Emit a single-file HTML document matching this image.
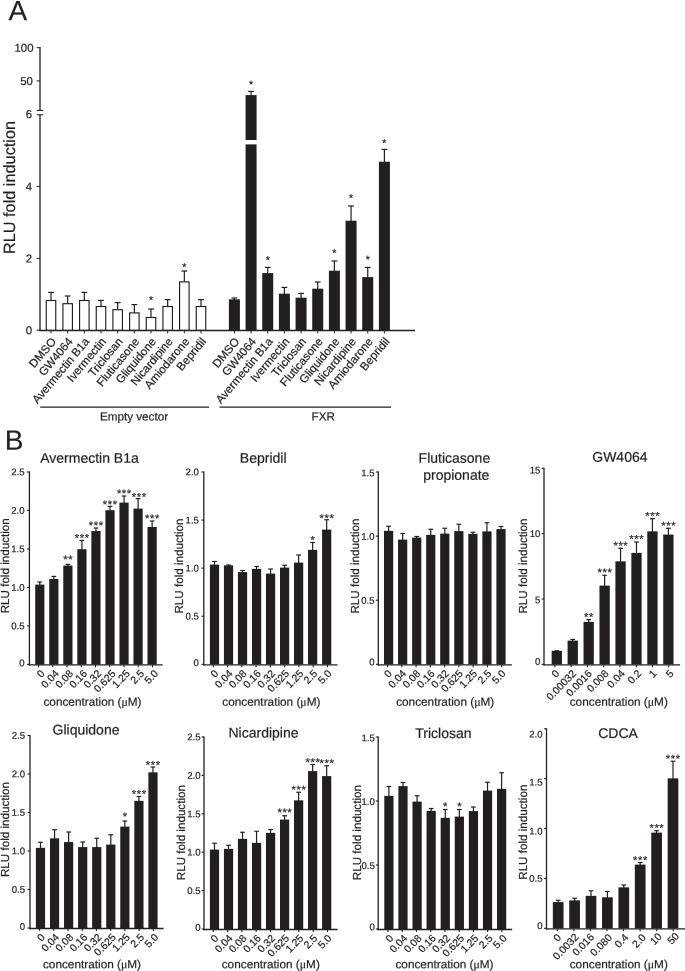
<!DOCTYPE html>
<html lang="en">
<head>
<meta charset="utf-8">
<title>Figure</title>
<style>
html,body{margin:0;padding:0;background:#fff;}
body{width:685px;height:971px;overflow:hidden;}
svg{display:block;}
svg text{font-family:"Liberation Sans",Arial,Helvetica,sans-serif;fill:#231f20;stroke:#231f20;stroke-width:0.2px;text-rendering:geometricPrecision;}
</style>
</head>
<body>
<svg width="685" height="971" viewBox="0 0 685 971">
<rect x="0" y="0" width="685" height="971" fill="#ffffff"/>
<text x="8.50" y="20.20" font-size="28" text-anchor="start" transform="rotate(0.05 8.50 20.20)">A</text>
<line x1="40.00" y1="114.80" x2="40.00" y2="330.80" stroke="#231f20" stroke-width="1.3"/>
<line x1="40.00" y1="47.10" x2="40.00" y2="110.40" stroke="#231f20" stroke-width="1.3"/>
<line x1="36.80" y1="110.40" x2="43.20" y2="110.40" stroke="#231f20" stroke-width="1.1"/>
<line x1="36.80" y1="114.80" x2="43.20" y2="114.80" stroke="#231f20" stroke-width="1.1"/>
<line x1="36.60" y1="47.70" x2="40.00" y2="47.70" stroke="#231f20" stroke-width="1.0"/>
<text x="33.50" y="51.70" font-size="11.4" text-anchor="end" transform="rotate(0.05 33.50 51.70)">100</text>
<line x1="36.60" y1="80.90" x2="40.00" y2="80.90" stroke="#231f20" stroke-width="1.0"/>
<text x="32.80" y="84.90" font-size="11.4" text-anchor="end" transform="rotate(0.05 32.80 84.90)">50</text>
<line x1="36.60" y1="186.40" x2="40.00" y2="186.40" stroke="#231f20" stroke-width="1.0"/>
<text x="32.20" y="190.40" font-size="11.4" text-anchor="end" transform="rotate(0.05 32.20 190.40)">4</text>
<line x1="36.60" y1="258.40" x2="40.00" y2="258.40" stroke="#231f20" stroke-width="1.0"/>
<text x="32.20" y="262.40" font-size="11.4" text-anchor="end" transform="rotate(0.05 32.20 262.40)">2</text>
<line x1="36.60" y1="330.20" x2="40.00" y2="330.20" stroke="#231f20" stroke-width="1.0"/>
<text x="32.20" y="334.20" font-size="11.4" text-anchor="end" transform="rotate(0.05 32.20 334.20)">0</text>
<text x="32.20" y="118.10" font-size="11.4" text-anchor="end" transform="rotate(0.05 32.20 118.10)">6</text>
<line x1="39.40" y1="330.50" x2="415.00" y2="330.50" stroke="#231f20" stroke-width="1.3"/>
<text x="15.00" y="187.50" font-size="16.3" text-anchor="middle" transform="rotate(-90 15.00 187.50)">RLU fold induction</text>
<line x1="51.00" y1="292.40" x2="51.00" y2="300.50" stroke="#231f20" stroke-width="1.2"/>
<line x1="48.10" y1="292.40" x2="53.90" y2="292.40" stroke="#231f20" stroke-width="1.2"/>
<rect x="46.25" y="300.50" width="9.50" height="29.70" fill="#fff" stroke="#231f20" stroke-width="1.15"/>
<line x1="51.00" y1="330.20" x2="51.00" y2="333.40" stroke="#231f20" stroke-width="1.0"/>
<text x="56.70" y="341.80" font-size="11.6" text-anchor="end" transform="rotate(-50 56.70 341.80)">DMSO</text>
<line x1="67.67" y1="296.00" x2="67.67" y2="303.70" stroke="#231f20" stroke-width="1.2"/>
<line x1="64.77" y1="296.00" x2="70.57" y2="296.00" stroke="#231f20" stroke-width="1.2"/>
<rect x="62.92" y="303.70" width="9.50" height="26.50" fill="#fff" stroke="#231f20" stroke-width="1.15"/>
<line x1="67.67" y1="330.20" x2="67.67" y2="333.40" stroke="#231f20" stroke-width="1.0"/>
<text x="73.37" y="341.80" font-size="11.6" text-anchor="end" transform="rotate(-50 73.37 341.80)">GW4064</text>
<line x1="84.33" y1="292.40" x2="84.33" y2="300.50" stroke="#231f20" stroke-width="1.2"/>
<line x1="81.43" y1="292.40" x2="87.23" y2="292.40" stroke="#231f20" stroke-width="1.2"/>
<rect x="79.58" y="300.50" width="9.50" height="29.70" fill="#fff" stroke="#231f20" stroke-width="1.15"/>
<line x1="84.33" y1="330.20" x2="84.33" y2="333.40" stroke="#231f20" stroke-width="1.0"/>
<text x="90.03" y="341.80" font-size="11.6" text-anchor="end" transform="rotate(-50 90.03 341.80)">Avermectin B1a</text>
<line x1="101.00" y1="300.40" x2="101.00" y2="306.50" stroke="#231f20" stroke-width="1.2"/>
<line x1="98.10" y1="300.40" x2="103.90" y2="300.40" stroke="#231f20" stroke-width="1.2"/>
<rect x="96.25" y="306.50" width="9.50" height="23.70" fill="#fff" stroke="#231f20" stroke-width="1.15"/>
<line x1="101.00" y1="330.20" x2="101.00" y2="333.40" stroke="#231f20" stroke-width="1.0"/>
<text x="106.70" y="341.80" font-size="11.6" text-anchor="end" transform="rotate(-50 106.70 341.80)">Ivermectin</text>
<line x1="117.67" y1="302.60" x2="117.67" y2="309.70" stroke="#231f20" stroke-width="1.2"/>
<line x1="114.77" y1="302.60" x2="120.57" y2="302.60" stroke="#231f20" stroke-width="1.2"/>
<rect x="112.92" y="309.70" width="9.50" height="20.50" fill="#fff" stroke="#231f20" stroke-width="1.15"/>
<line x1="117.67" y1="330.20" x2="117.67" y2="333.40" stroke="#231f20" stroke-width="1.0"/>
<text x="123.37" y="341.80" font-size="11.6" text-anchor="end" transform="rotate(-50 123.37 341.80)">Triclosan</text>
<line x1="134.34" y1="304.60" x2="134.34" y2="312.90" stroke="#231f20" stroke-width="1.2"/>
<line x1="131.44" y1="304.60" x2="137.24" y2="304.60" stroke="#231f20" stroke-width="1.2"/>
<rect x="129.59" y="312.90" width="9.50" height="17.30" fill="#fff" stroke="#231f20" stroke-width="1.15"/>
<line x1="134.34" y1="330.20" x2="134.34" y2="333.40" stroke="#231f20" stroke-width="1.0"/>
<text x="140.03" y="341.80" font-size="11.6" text-anchor="end" transform="rotate(-50 140.03 341.80)">Fluticasone</text>
<line x1="151.00" y1="309.00" x2="151.00" y2="317.50" stroke="#231f20" stroke-width="1.2"/>
<line x1="148.10" y1="309.00" x2="153.90" y2="309.00" stroke="#231f20" stroke-width="1.2"/>
<rect x="146.25" y="317.50" width="9.50" height="12.70" fill="#fff" stroke="#231f20" stroke-width="1.15"/>
<line x1="151.00" y1="330.20" x2="151.00" y2="333.40" stroke="#231f20" stroke-width="1.0"/>
<text x="151.00" y="303.41" font-size="10.5" text-anchor="middle" transform="rotate(0.05 151.00 303.41)" stroke-width="0.5" letter-spacing="0.0">*</text>
<text x="156.70" y="341.80" font-size="11.6" text-anchor="end" transform="rotate(-50 156.70 341.80)">Gliquidone</text>
<line x1="167.67" y1="299.60" x2="167.67" y2="306.50" stroke="#231f20" stroke-width="1.2"/>
<line x1="164.77" y1="299.60" x2="170.57" y2="299.60" stroke="#231f20" stroke-width="1.2"/>
<rect x="162.92" y="306.50" width="9.50" height="23.70" fill="#fff" stroke="#231f20" stroke-width="1.15"/>
<line x1="167.67" y1="330.20" x2="167.67" y2="333.40" stroke="#231f20" stroke-width="1.0"/>
<text x="173.37" y="341.80" font-size="11.6" text-anchor="end" transform="rotate(-50 173.37 341.80)">Nicardipine</text>
<line x1="184.34" y1="271.00" x2="184.34" y2="281.90" stroke="#231f20" stroke-width="1.2"/>
<line x1="181.44" y1="271.00" x2="187.24" y2="271.00" stroke="#231f20" stroke-width="1.2"/>
<rect x="179.59" y="281.90" width="9.50" height="48.30" fill="#fff" stroke="#231f20" stroke-width="1.15"/>
<line x1="184.34" y1="330.20" x2="184.34" y2="333.40" stroke="#231f20" stroke-width="1.0"/>
<text x="184.34" y="270.41" font-size="10.5" text-anchor="middle" transform="rotate(0.05 184.34 270.41)" stroke-width="0.5" letter-spacing="0.0">*</text>
<text x="190.04" y="341.80" font-size="11.6" text-anchor="end" transform="rotate(-50 190.04 341.80)">Amiodarone</text>
<line x1="201.00" y1="299.60" x2="201.00" y2="306.50" stroke="#231f20" stroke-width="1.2"/>
<line x1="198.10" y1="299.60" x2="203.90" y2="299.60" stroke="#231f20" stroke-width="1.2"/>
<rect x="196.25" y="306.50" width="9.50" height="23.70" fill="#fff" stroke="#231f20" stroke-width="1.15"/>
<line x1="201.00" y1="330.20" x2="201.00" y2="333.40" stroke="#231f20" stroke-width="1.0"/>
<text x="206.70" y="341.80" font-size="11.6" text-anchor="end" transform="rotate(-50 206.70 341.80)">Bepridil</text>
<line x1="234.40" y1="298.00" x2="234.40" y2="300.10" stroke="#231f20" stroke-width="1.2"/>
<line x1="231.50" y1="298.00" x2="237.30" y2="298.00" stroke="#231f20" stroke-width="1.2"/>
<rect x="228.90" y="299.30" width="11.00" height="30.90" fill="#231f20"/>
<line x1="234.40" y1="330.20" x2="234.40" y2="333.40" stroke="#231f20" stroke-width="1.0"/>
<text x="240.10" y="341.80" font-size="11.6" text-anchor="end" transform="rotate(-50 240.10 341.80)">DMSO</text>
<line x1="251.07" y1="91.40" x2="251.07" y2="95.90" stroke="#231f20" stroke-width="1.2"/>
<line x1="248.17" y1="91.40" x2="253.97" y2="91.40" stroke="#231f20" stroke-width="1.2"/>
<rect x="245.57" y="95.10" width="11.00" height="235.10" fill="#231f20"/>
<line x1="251.07" y1="330.20" x2="251.07" y2="333.40" stroke="#231f20" stroke-width="1.0"/>
<text x="251.07" y="88.01" font-size="10.5" text-anchor="middle" transform="rotate(0.05 251.07 88.01)" stroke-width="0.5" letter-spacing="0.0">*</text>
<text x="256.77" y="341.80" font-size="11.6" text-anchor="end" transform="rotate(-50 256.77 341.80)">GW4064</text>
<line x1="267.73" y1="267.40" x2="267.73" y2="273.90" stroke="#231f20" stroke-width="1.2"/>
<line x1="264.83" y1="267.40" x2="270.63" y2="267.40" stroke="#231f20" stroke-width="1.2"/>
<rect x="262.23" y="273.10" width="11.00" height="57.10" fill="#231f20"/>
<line x1="267.73" y1="330.20" x2="267.73" y2="333.40" stroke="#231f20" stroke-width="1.0"/>
<text x="267.73" y="263.41" font-size="10.5" text-anchor="middle" transform="rotate(0.05 267.73 263.41)" stroke-width="0.5" letter-spacing="0.0">*</text>
<text x="273.43" y="341.80" font-size="11.6" text-anchor="end" transform="rotate(-50 273.43 341.80)">Avermectin B1a</text>
<line x1="284.40" y1="287.40" x2="284.40" y2="294.50" stroke="#231f20" stroke-width="1.2"/>
<line x1="281.50" y1="287.40" x2="287.30" y2="287.40" stroke="#231f20" stroke-width="1.2"/>
<rect x="278.90" y="293.70" width="11.00" height="36.50" fill="#231f20"/>
<line x1="284.40" y1="330.20" x2="284.40" y2="333.40" stroke="#231f20" stroke-width="1.0"/>
<text x="290.10" y="341.80" font-size="11.6" text-anchor="end" transform="rotate(-50 290.10 341.80)">Ivermectin</text>
<line x1="301.07" y1="293.40" x2="301.07" y2="298.50" stroke="#231f20" stroke-width="1.2"/>
<line x1="298.17" y1="293.40" x2="303.97" y2="293.40" stroke="#231f20" stroke-width="1.2"/>
<rect x="295.57" y="297.70" width="11.00" height="32.50" fill="#231f20"/>
<line x1="301.07" y1="330.20" x2="301.07" y2="333.40" stroke="#231f20" stroke-width="1.0"/>
<text x="306.77" y="341.80" font-size="11.6" text-anchor="end" transform="rotate(-50 306.77 341.80)">Triclosan</text>
<line x1="317.74" y1="282.00" x2="317.74" y2="289.50" stroke="#231f20" stroke-width="1.2"/>
<line x1="314.84" y1="282.00" x2="320.63" y2="282.00" stroke="#231f20" stroke-width="1.2"/>
<rect x="312.24" y="288.70" width="11.00" height="41.50" fill="#231f20"/>
<line x1="317.74" y1="330.20" x2="317.74" y2="333.40" stroke="#231f20" stroke-width="1.0"/>
<text x="323.44" y="341.80" font-size="11.6" text-anchor="end" transform="rotate(-50 323.44 341.80)">Fluticasone</text>
<line x1="334.40" y1="261.00" x2="334.40" y2="271.50" stroke="#231f20" stroke-width="1.2"/>
<line x1="331.50" y1="261.00" x2="337.30" y2="261.00" stroke="#231f20" stroke-width="1.2"/>
<rect x="328.90" y="270.70" width="11.00" height="59.50" fill="#231f20"/>
<line x1="334.40" y1="330.20" x2="334.40" y2="333.40" stroke="#231f20" stroke-width="1.0"/>
<text x="334.40" y="256.41" font-size="10.5" text-anchor="middle" transform="rotate(0.05 334.40 256.41)" stroke-width="0.5" letter-spacing="0.0">*</text>
<text x="340.10" y="341.80" font-size="11.6" text-anchor="end" transform="rotate(-50 340.10 341.80)">Gliquidone</text>
<line x1="351.07" y1="206.00" x2="351.07" y2="221.50" stroke="#231f20" stroke-width="1.2"/>
<line x1="348.17" y1="206.00" x2="353.97" y2="206.00" stroke="#231f20" stroke-width="1.2"/>
<rect x="345.57" y="220.70" width="11.00" height="109.50" fill="#231f20"/>
<line x1="351.07" y1="330.20" x2="351.07" y2="333.40" stroke="#231f20" stroke-width="1.0"/>
<text x="351.07" y="201.41" font-size="10.5" text-anchor="middle" transform="rotate(0.05 351.07 201.41)" stroke-width="0.5" letter-spacing="0.0">*</text>
<text x="356.77" y="341.80" font-size="11.6" text-anchor="end" transform="rotate(-50 356.77 341.80)">Nicardipine</text>
<line x1="367.74" y1="267.40" x2="367.74" y2="277.90" stroke="#231f20" stroke-width="1.2"/>
<line x1="364.84" y1="267.40" x2="370.64" y2="267.40" stroke="#231f20" stroke-width="1.2"/>
<rect x="362.24" y="277.10" width="11.00" height="53.10" fill="#231f20"/>
<line x1="367.74" y1="330.20" x2="367.74" y2="333.40" stroke="#231f20" stroke-width="1.0"/>
<text x="367.74" y="263.01" font-size="10.5" text-anchor="middle" transform="rotate(0.05 367.74 263.01)" stroke-width="0.5" letter-spacing="0.0">*</text>
<text x="373.44" y="341.80" font-size="11.6" text-anchor="end" transform="rotate(-50 373.44 341.80)">Amiodarone</text>
<line x1="384.40" y1="149.40" x2="384.40" y2="162.50" stroke="#231f20" stroke-width="1.2"/>
<line x1="381.50" y1="149.40" x2="387.30" y2="149.40" stroke="#231f20" stroke-width="1.2"/>
<rect x="378.90" y="161.70" width="11.00" height="168.50" fill="#231f20"/>
<line x1="384.40" y1="330.20" x2="384.40" y2="333.40" stroke="#231f20" stroke-width="1.0"/>
<text x="384.40" y="146.41" font-size="10.5" text-anchor="middle" transform="rotate(0.05 384.40 146.41)" stroke-width="0.5" letter-spacing="0.0">*</text>
<text x="390.10" y="341.80" font-size="11.6" text-anchor="end" transform="rotate(-50 390.10 341.80)">Bepridil</text>
<rect x="244.07" y="140.00" width="14.00" height="4.40" fill="#fff"/>
<line x1="40.20" y1="407.10" x2="209.00" y2="407.10" stroke="#231f20" stroke-width="1.1"/>
<line x1="219.60" y1="407.10" x2="391.00" y2="407.10" stroke="#231f20" stroke-width="1.1"/>
<text x="134.00" y="420.60" font-size="11.7" text-anchor="middle" transform="rotate(0.05 134.00 420.60)">Empty vector</text>
<text x="323.20" y="420.40" font-size="11.7" text-anchor="middle" transform="rotate(0.05 323.20 420.40)">FXR</text>
<text x="4.80" y="449.80" font-size="28" text-anchor="start" transform="rotate(0.05 4.80 449.80)">B</text>
<text x="89.50" y="462.80" font-size="14" text-anchor="middle" transform="rotate(0.05 89.50 462.80)">Avermectin B1a</text>
<line x1="29.40" y1="471.40" x2="29.40" y2="665.65" stroke="#231f20" stroke-width="1.3"/>
<line x1="28.80" y1="664.90" x2="162.70" y2="664.90" stroke="#231f20" stroke-width="1.3"/>
<line x1="27.00" y1="664.40" x2="29.40" y2="664.40" stroke="#231f20" stroke-width="1.1"/>
<text x="24.50" y="666.15" font-size="9.6" text-anchor="end" transform="rotate(0.05 24.50 666.15)">0</text>
<line x1="27.00" y1="625.92" x2="29.40" y2="625.92" stroke="#231f20" stroke-width="1.1"/>
<text x="24.50" y="629.27" font-size="9.6" text-anchor="end" transform="rotate(0.05 24.50 629.27)">0.5</text>
<line x1="27.00" y1="587.44" x2="29.40" y2="587.44" stroke="#231f20" stroke-width="1.1"/>
<text x="24.50" y="590.79" font-size="9.6" text-anchor="end" transform="rotate(0.05 24.50 590.79)">1.0</text>
<line x1="27.00" y1="548.96" x2="29.40" y2="548.96" stroke="#231f20" stroke-width="1.1"/>
<text x="24.50" y="552.31" font-size="9.6" text-anchor="end" transform="rotate(0.05 24.50 552.31)">1.5</text>
<line x1="27.00" y1="510.48" x2="29.40" y2="510.48" stroke="#231f20" stroke-width="1.1"/>
<text x="24.50" y="513.83" font-size="9.6" text-anchor="end" transform="rotate(0.05 24.50 513.83)">2.0</text>
<line x1="27.00" y1="472.00" x2="29.40" y2="472.00" stroke="#231f20" stroke-width="1.1"/>
<text x="24.50" y="475.35" font-size="9.6" text-anchor="end" transform="rotate(0.05 24.50 475.35)">2.5</text>
<text x="9.00" y="565.80" font-size="11.65" text-anchor="middle" transform="rotate(-90 9.00 565.80)">RLU fold induction</text>
<line x1="39.80" y1="582.00" x2="39.80" y2="585.50" stroke="#231f20" stroke-width="1.2"/>
<line x1="37.45" y1="582.00" x2="42.15" y2="582.00" stroke="#231f20" stroke-width="1.2"/>
<rect x="35.20" y="584.60" width="9.20" height="80.00" fill="#231f20"/>
<line x1="38.50" y1="664.90" x2="38.50" y2="667.30" stroke="#231f20" stroke-width="1.1"/>
<text x="45.30" y="674.20" font-size="10.4" text-anchor="end" transform="rotate(-46 45.30 674.20)">0</text>
<line x1="53.84" y1="576.40" x2="53.84" y2="579.90" stroke="#231f20" stroke-width="1.2"/>
<line x1="51.49" y1="576.40" x2="56.19" y2="576.40" stroke="#231f20" stroke-width="1.2"/>
<rect x="49.24" y="579.00" width="9.20" height="85.60" fill="#231f20"/>
<line x1="52.75" y1="664.90" x2="52.75" y2="667.30" stroke="#231f20" stroke-width="1.1"/>
<text x="59.50" y="674.20" font-size="10.4" text-anchor="end" transform="rotate(-46 59.50 674.20)">0.04</text>
<line x1="67.88" y1="564.40" x2="67.88" y2="566.50" stroke="#231f20" stroke-width="1.2"/>
<line x1="65.53" y1="564.40" x2="70.23" y2="564.40" stroke="#231f20" stroke-width="1.2"/>
<rect x="63.28" y="565.60" width="9.20" height="99.00" fill="#231f20"/>
<line x1="67.00" y1="664.90" x2="67.00" y2="667.30" stroke="#231f20" stroke-width="1.1"/>
<text x="68.18" y="563.37" font-size="11.2" text-anchor="middle" transform="rotate(0.05 68.18 563.37)" stroke-width="0.5" letter-spacing="0.6">**</text>
<text x="73.70" y="674.20" font-size="10.4" text-anchor="end" transform="rotate(-46 73.70 674.20)">0.08</text>
<line x1="81.92" y1="540.40" x2="81.92" y2="550.10" stroke="#231f20" stroke-width="1.2"/>
<line x1="79.57" y1="540.40" x2="84.27" y2="540.40" stroke="#231f20" stroke-width="1.2"/>
<rect x="77.32" y="549.20" width="9.20" height="115.40" fill="#231f20"/>
<line x1="81.25" y1="664.90" x2="81.25" y2="667.30" stroke="#231f20" stroke-width="1.1"/>
<text x="82.22" y="541.77" font-size="11.2" text-anchor="middle" transform="rotate(0.05 82.22 541.77)" stroke-width="0.5" letter-spacing="0.6">***</text>
<text x="87.90" y="674.20" font-size="10.4" text-anchor="end" transform="rotate(-46 87.90 674.20)">0.16</text>
<line x1="95.96" y1="528.00" x2="95.96" y2="531.90" stroke="#231f20" stroke-width="1.2"/>
<line x1="93.61" y1="528.00" x2="98.31" y2="528.00" stroke="#231f20" stroke-width="1.2"/>
<rect x="91.36" y="531.00" width="9.20" height="133.60" fill="#231f20"/>
<line x1="95.50" y1="664.90" x2="95.50" y2="667.30" stroke="#231f20" stroke-width="1.1"/>
<text x="96.26" y="529.17" font-size="11.2" text-anchor="middle" transform="rotate(0.05 96.26 529.17)" stroke-width="0.5" letter-spacing="0.6">***</text>
<text x="102.10" y="674.20" font-size="10.4" text-anchor="end" transform="rotate(-46 102.10 674.20)">0.32</text>
<line x1="110.00" y1="506.40" x2="110.00" y2="511.10" stroke="#231f20" stroke-width="1.2"/>
<line x1="107.65" y1="506.40" x2="112.35" y2="506.40" stroke="#231f20" stroke-width="1.2"/>
<rect x="105.40" y="510.20" width="9.20" height="154.40" fill="#231f20"/>
<line x1="109.75" y1="664.90" x2="109.75" y2="667.30" stroke="#231f20" stroke-width="1.1"/>
<text x="110.30" y="508.27" font-size="11.2" text-anchor="middle" transform="rotate(0.05 110.30 508.27)" stroke-width="0.5" letter-spacing="0.6">***</text>
<text x="116.30" y="674.20" font-size="10.4" text-anchor="end" transform="rotate(-46 116.30 674.20)">0.625</text>
<line x1="124.04" y1="496.00" x2="124.04" y2="503.50" stroke="#231f20" stroke-width="1.2"/>
<line x1="121.69" y1="496.00" x2="126.39" y2="496.00" stroke="#231f20" stroke-width="1.2"/>
<rect x="119.44" y="502.60" width="9.20" height="162.00" fill="#231f20"/>
<line x1="124.00" y1="664.90" x2="124.00" y2="667.30" stroke="#231f20" stroke-width="1.1"/>
<text x="124.34" y="497.37" font-size="11.2" text-anchor="middle" transform="rotate(0.05 124.34 497.37)" stroke-width="0.5" letter-spacing="0.6">***</text>
<text x="130.50" y="674.20" font-size="10.4" text-anchor="end" transform="rotate(-46 130.50 674.20)">1.25</text>
<line x1="138.08" y1="498.60" x2="138.08" y2="509.50" stroke="#231f20" stroke-width="1.2"/>
<line x1="135.73" y1="498.60" x2="140.43" y2="498.60" stroke="#231f20" stroke-width="1.2"/>
<rect x="133.48" y="508.60" width="9.20" height="156.00" fill="#231f20"/>
<line x1="138.25" y1="664.90" x2="138.25" y2="667.30" stroke="#231f20" stroke-width="1.1"/>
<text x="139.18" y="500.77" font-size="11.2" text-anchor="middle" transform="rotate(0.05 139.18 500.77)" stroke-width="0.5" letter-spacing="0.6">***</text>
<text x="144.70" y="674.20" font-size="10.4" text-anchor="end" transform="rotate(-46 144.70 674.20)">2.5</text>
<line x1="152.12" y1="521.00" x2="152.12" y2="527.90" stroke="#231f20" stroke-width="1.2"/>
<line x1="149.77" y1="521.00" x2="154.47" y2="521.00" stroke="#231f20" stroke-width="1.2"/>
<rect x="147.52" y="527.00" width="9.20" height="137.60" fill="#231f20"/>
<line x1="152.50" y1="664.90" x2="152.50" y2="667.30" stroke="#231f20" stroke-width="1.1"/>
<text x="152.42" y="522.37" font-size="11.2" text-anchor="middle" transform="rotate(0.05 152.42 522.37)" stroke-width="0.5" letter-spacing="0.6">***</text>
<text x="158.90" y="674.20" font-size="10.4" text-anchor="end" transform="rotate(-46 158.90 674.20)">5.0</text>
<text x="92.50" y="705.80" font-size="11.8" text-anchor="middle" transform="rotate(0.05 92.50 705.80)">concentration (<tspan font-family="'Liberation Serif', serif">μ</tspan>M)</text>
<text x="263.20" y="462.80" font-size="14" text-anchor="middle" transform="rotate(0.05 263.20 462.80)">Bepridil</text>
<line x1="203.80" y1="471.40" x2="203.80" y2="665.55" stroke="#231f20" stroke-width="1.3"/>
<line x1="203.20" y1="664.80" x2="337.60" y2="664.80" stroke="#231f20" stroke-width="1.3"/>
<line x1="201.40" y1="664.30" x2="203.80" y2="664.30" stroke="#231f20" stroke-width="1.1"/>
<text x="198.90" y="666.05" font-size="9.6" text-anchor="end" transform="rotate(0.05 198.90 666.05)">0</text>
<line x1="201.40" y1="616.22" x2="203.80" y2="616.22" stroke="#231f20" stroke-width="1.1"/>
<text x="198.90" y="619.57" font-size="9.6" text-anchor="end" transform="rotate(0.05 198.90 619.57)">0.5</text>
<line x1="201.40" y1="568.14" x2="203.80" y2="568.14" stroke="#231f20" stroke-width="1.1"/>
<text x="198.90" y="571.49" font-size="9.6" text-anchor="end" transform="rotate(0.05 198.90 571.49)">1.0</text>
<line x1="201.40" y1="520.06" x2="203.80" y2="520.06" stroke="#231f20" stroke-width="1.1"/>
<text x="198.90" y="523.41" font-size="9.6" text-anchor="end" transform="rotate(0.05 198.90 523.41)">1.5</text>
<line x1="201.40" y1="471.98" x2="203.80" y2="471.98" stroke="#231f20" stroke-width="1.1"/>
<text x="198.90" y="475.33" font-size="9.6" text-anchor="end" transform="rotate(0.05 198.90 475.33)">2.0</text>
<text x="183.20" y="566.00" font-size="11.65" text-anchor="middle" transform="rotate(-90 183.20 566.00)">RLU fold induction</text>
<line x1="214.50" y1="561.50" x2="214.50" y2="565.50" stroke="#231f20" stroke-width="1.2"/>
<line x1="212.15" y1="561.50" x2="216.85" y2="561.50" stroke="#231f20" stroke-width="1.2"/>
<rect x="209.90" y="564.60" width="9.20" height="99.90" fill="#231f20"/>
<line x1="213.33" y1="664.80" x2="213.33" y2="667.20" stroke="#231f20" stroke-width="1.1"/>
<text x="219.10" y="674.10" font-size="10.4" text-anchor="end" transform="rotate(-46 219.10 674.10)">0</text>
<line x1="228.52" y1="565.00" x2="228.52" y2="566.25" stroke="#231f20" stroke-width="1.2"/>
<line x1="226.17" y1="565.00" x2="230.87" y2="565.00" stroke="#231f20" stroke-width="1.2"/>
<rect x="223.92" y="565.35" width="9.20" height="99.15" fill="#231f20"/>
<line x1="227.60" y1="664.80" x2="227.60" y2="667.20" stroke="#231f20" stroke-width="1.1"/>
<text x="233.25" y="674.10" font-size="10.4" text-anchor="end" transform="rotate(-46 233.25 674.10)">0.04</text>
<line x1="242.54" y1="570.50" x2="242.54" y2="573.00" stroke="#231f20" stroke-width="1.2"/>
<line x1="240.19" y1="570.50" x2="244.89" y2="570.50" stroke="#231f20" stroke-width="1.2"/>
<rect x="237.94" y="572.10" width="9.20" height="92.40" fill="#231f20"/>
<line x1="241.87" y1="664.80" x2="241.87" y2="667.20" stroke="#231f20" stroke-width="1.1"/>
<text x="247.40" y="674.10" font-size="10.4" text-anchor="end" transform="rotate(-46 247.40 674.10)">0.08</text>
<line x1="256.56" y1="566.50" x2="256.56" y2="569.75" stroke="#231f20" stroke-width="1.2"/>
<line x1="254.21" y1="566.50" x2="258.91" y2="566.50" stroke="#231f20" stroke-width="1.2"/>
<rect x="251.96" y="568.85" width="9.20" height="95.65" fill="#231f20"/>
<line x1="256.14" y1="664.80" x2="256.14" y2="667.20" stroke="#231f20" stroke-width="1.1"/>
<text x="261.55" y="674.10" font-size="10.4" text-anchor="end" transform="rotate(-46 261.55 674.10)">0.16</text>
<line x1="270.58" y1="569.00" x2="270.58" y2="574.50" stroke="#231f20" stroke-width="1.2"/>
<line x1="268.23" y1="569.00" x2="272.93" y2="569.00" stroke="#231f20" stroke-width="1.2"/>
<rect x="265.98" y="573.60" width="9.20" height="90.90" fill="#231f20"/>
<line x1="270.41" y1="664.80" x2="270.41" y2="667.20" stroke="#231f20" stroke-width="1.1"/>
<text x="275.70" y="674.10" font-size="10.4" text-anchor="end" transform="rotate(-46 275.70 674.10)">0.32</text>
<line x1="284.60" y1="565.25" x2="284.60" y2="568.50" stroke="#231f20" stroke-width="1.2"/>
<line x1="282.25" y1="565.25" x2="286.95" y2="565.25" stroke="#231f20" stroke-width="1.2"/>
<rect x="280.00" y="567.60" width="9.20" height="96.90" fill="#231f20"/>
<line x1="284.68" y1="664.80" x2="284.68" y2="667.20" stroke="#231f20" stroke-width="1.1"/>
<text x="289.85" y="674.10" font-size="10.4" text-anchor="end" transform="rotate(-46 289.85 674.10)">0.625</text>
<line x1="298.62" y1="555.00" x2="298.62" y2="563.50" stroke="#231f20" stroke-width="1.2"/>
<line x1="296.27" y1="555.00" x2="300.97" y2="555.00" stroke="#231f20" stroke-width="1.2"/>
<rect x="294.02" y="562.60" width="9.20" height="101.90" fill="#231f20"/>
<line x1="298.95" y1="664.80" x2="298.95" y2="667.20" stroke="#231f20" stroke-width="1.1"/>
<text x="304.00" y="674.10" font-size="10.4" text-anchor="end" transform="rotate(-46 304.00 674.10)">1.25</text>
<line x1="312.64" y1="542.50" x2="312.64" y2="550.75" stroke="#231f20" stroke-width="1.2"/>
<line x1="310.29" y1="542.50" x2="314.99" y2="542.50" stroke="#231f20" stroke-width="1.2"/>
<rect x="308.04" y="549.85" width="9.20" height="114.65" fill="#231f20"/>
<line x1="313.22" y1="664.80" x2="313.22" y2="667.20" stroke="#231f20" stroke-width="1.1"/>
<text x="312.94" y="543.77" font-size="11.2" text-anchor="middle" transform="rotate(0.05 312.94 543.77)" stroke-width="0.5" letter-spacing="0.6">*</text>
<text x="318.15" y="674.10" font-size="10.4" text-anchor="end" transform="rotate(-46 318.15 674.10)">2.5</text>
<line x1="326.66" y1="519.75" x2="326.66" y2="530.50" stroke="#231f20" stroke-width="1.2"/>
<line x1="324.31" y1="519.75" x2="329.01" y2="519.75" stroke="#231f20" stroke-width="1.2"/>
<rect x="322.06" y="529.60" width="9.20" height="134.90" fill="#231f20"/>
<line x1="327.49" y1="664.80" x2="327.49" y2="667.20" stroke="#231f20" stroke-width="1.1"/>
<text x="326.96" y="522.02" font-size="11.2" text-anchor="middle" transform="rotate(0.05 326.96 522.02)" stroke-width="0.5" letter-spacing="0.6">***</text>
<text x="332.30" y="674.10" font-size="10.4" text-anchor="end" transform="rotate(-46 332.30 674.10)">5.0</text>
<text x="271.40" y="705.80" font-size="11.8" text-anchor="middle" transform="rotate(0.05 271.40 705.80)">concentration (<tspan font-family="'Liberation Serif', serif">μ</tspan>M)</text>
<text x="454.40" y="462.80" font-size="14" text-anchor="middle" transform="rotate(0.05 454.40 462.80)">Fluticasone</text>
<text x="456.30" y="479.80" font-size="14" text-anchor="middle" transform="rotate(0.05 456.30 479.80)">propionate</text>
<line x1="378.30" y1="471.40" x2="378.30" y2="665.55" stroke="#231f20" stroke-width="1.3"/>
<line x1="377.70" y1="664.80" x2="511.90" y2="664.80" stroke="#231f20" stroke-width="1.3"/>
<line x1="375.90" y1="664.30" x2="378.30" y2="664.30" stroke="#231f20" stroke-width="1.1"/>
<text x="374.60" y="665.35" font-size="9.6" text-anchor="end" transform="rotate(0.05 374.60 665.35)">0</text>
<line x1="375.90" y1="600.20" x2="378.30" y2="600.20" stroke="#231f20" stroke-width="1.1"/>
<text x="374.60" y="603.85" font-size="9.6" text-anchor="end" transform="rotate(0.05 374.60 603.85)">0.5</text>
<line x1="375.90" y1="536.10" x2="378.30" y2="536.10" stroke="#231f20" stroke-width="1.1"/>
<text x="374.60" y="539.75" font-size="9.6" text-anchor="end" transform="rotate(0.05 374.60 539.75)">1.0</text>
<line x1="375.90" y1="472.00" x2="378.30" y2="472.00" stroke="#231f20" stroke-width="1.1"/>
<text x="374.60" y="476.35" font-size="9.6" text-anchor="end" transform="rotate(0.05 374.60 476.35)">1.5</text>
<text x="358.80" y="566.00" font-size="11.65" text-anchor="middle" transform="rotate(-90 358.80 566.00)">RLU fold induction</text>
<line x1="388.60" y1="526.25" x2="388.60" y2="531.75" stroke="#231f20" stroke-width="1.2"/>
<line x1="386.25" y1="526.25" x2="390.95" y2="526.25" stroke="#231f20" stroke-width="1.2"/>
<rect x="384.00" y="530.85" width="9.20" height="133.65" fill="#231f20"/>
<line x1="387.54" y1="664.80" x2="387.54" y2="667.20" stroke="#231f20" stroke-width="1.1"/>
<text x="392.65" y="674.10" font-size="10.4" text-anchor="end" transform="rotate(-46 392.65 674.10)">0</text>
<line x1="402.65" y1="533.50" x2="402.65" y2="540.50" stroke="#231f20" stroke-width="1.2"/>
<line x1="400.30" y1="533.50" x2="405.00" y2="533.50" stroke="#231f20" stroke-width="1.2"/>
<rect x="398.05" y="539.60" width="9.20" height="124.90" fill="#231f20"/>
<line x1="401.81" y1="664.80" x2="401.81" y2="667.20" stroke="#231f20" stroke-width="1.1"/>
<text x="406.85" y="674.10" font-size="10.4" text-anchor="end" transform="rotate(-46 406.85 674.10)">0.04</text>
<line x1="416.70" y1="536.50" x2="416.70" y2="538.50" stroke="#231f20" stroke-width="1.2"/>
<line x1="414.35" y1="536.50" x2="419.05" y2="536.50" stroke="#231f20" stroke-width="1.2"/>
<rect x="412.10" y="537.60" width="9.20" height="126.90" fill="#231f20"/>
<line x1="416.08" y1="664.80" x2="416.08" y2="667.20" stroke="#231f20" stroke-width="1.1"/>
<text x="421.05" y="674.10" font-size="10.4" text-anchor="end" transform="rotate(-46 421.05 674.10)">0.08</text>
<line x1="430.75" y1="529.25" x2="430.75" y2="535.75" stroke="#231f20" stroke-width="1.2"/>
<line x1="428.40" y1="529.25" x2="433.10" y2="529.25" stroke="#231f20" stroke-width="1.2"/>
<rect x="426.15" y="534.85" width="9.20" height="129.65" fill="#231f20"/>
<line x1="430.35" y1="664.80" x2="430.35" y2="667.20" stroke="#231f20" stroke-width="1.1"/>
<text x="435.25" y="674.10" font-size="10.4" text-anchor="end" transform="rotate(-46 435.25 674.10)">0.16</text>
<line x1="444.80" y1="528.25" x2="444.80" y2="534.50" stroke="#231f20" stroke-width="1.2"/>
<line x1="442.45" y1="528.25" x2="447.15" y2="528.25" stroke="#231f20" stroke-width="1.2"/>
<rect x="440.20" y="533.60" width="9.20" height="130.90" fill="#231f20"/>
<line x1="444.62" y1="664.80" x2="444.62" y2="667.20" stroke="#231f20" stroke-width="1.1"/>
<text x="449.45" y="674.10" font-size="10.4" text-anchor="end" transform="rotate(-46 449.45 674.10)">0.32</text>
<line x1="458.85" y1="524.25" x2="458.85" y2="532.00" stroke="#231f20" stroke-width="1.2"/>
<line x1="456.50" y1="524.25" x2="461.20" y2="524.25" stroke="#231f20" stroke-width="1.2"/>
<rect x="454.25" y="531.10" width="9.20" height="133.40" fill="#231f20"/>
<line x1="458.89" y1="664.80" x2="458.89" y2="667.20" stroke="#231f20" stroke-width="1.1"/>
<text x="463.65" y="674.10" font-size="10.4" text-anchor="end" transform="rotate(-46 463.65 674.10)">0.625</text>
<line x1="472.90" y1="532.25" x2="472.90" y2="534.75" stroke="#231f20" stroke-width="1.2"/>
<line x1="470.55" y1="532.25" x2="475.25" y2="532.25" stroke="#231f20" stroke-width="1.2"/>
<rect x="468.30" y="533.85" width="9.20" height="130.65" fill="#231f20"/>
<line x1="473.16" y1="664.80" x2="473.16" y2="667.20" stroke="#231f20" stroke-width="1.1"/>
<text x="477.85" y="674.10" font-size="10.4" text-anchor="end" transform="rotate(-46 477.85 674.10)">1.25</text>
<line x1="486.95" y1="522.75" x2="486.95" y2="532.25" stroke="#231f20" stroke-width="1.2"/>
<line x1="484.60" y1="522.75" x2="489.30" y2="522.75" stroke="#231f20" stroke-width="1.2"/>
<rect x="482.35" y="531.35" width="9.20" height="133.15" fill="#231f20"/>
<line x1="487.43" y1="664.80" x2="487.43" y2="667.20" stroke="#231f20" stroke-width="1.1"/>
<text x="492.05" y="674.10" font-size="10.4" text-anchor="end" transform="rotate(-46 492.05 674.10)">2.5</text>
<line x1="501.00" y1="526.50" x2="501.00" y2="530.00" stroke="#231f20" stroke-width="1.2"/>
<line x1="498.65" y1="526.50" x2="503.35" y2="526.50" stroke="#231f20" stroke-width="1.2"/>
<rect x="496.40" y="529.10" width="9.20" height="135.40" fill="#231f20"/>
<line x1="501.70" y1="664.80" x2="501.70" y2="667.20" stroke="#231f20" stroke-width="1.1"/>
<text x="506.25" y="674.10" font-size="10.4" text-anchor="end" transform="rotate(-46 506.25 674.10)">5.0</text>
<text x="445.20" y="705.80" font-size="11.8" text-anchor="middle" transform="rotate(0.05 445.20 705.80)">concentration (<tspan font-family="'Liberation Serif', serif">μ</tspan>M)</text>
<text x="619.90" y="461.80" font-size="14" text-anchor="middle" transform="rotate(0.05 619.90 461.80)">GW4064</text>
<line x1="544.00" y1="467.70" x2="544.00" y2="665.55" stroke="#231f20" stroke-width="1.3"/>
<line x1="543.40" y1="664.80" x2="680.10" y2="664.80" stroke="#231f20" stroke-width="1.3"/>
<line x1="541.60" y1="664.30" x2="544.00" y2="664.30" stroke="#231f20" stroke-width="1.1"/>
<text x="540.30" y="664.80" font-size="9.6" text-anchor="end" transform="rotate(0.05 540.30 664.80)">0</text>
<line x1="541.60" y1="598.97" x2="544.00" y2="598.97" stroke="#231f20" stroke-width="1.1"/>
<text x="540.30" y="603.32" font-size="9.6" text-anchor="end" transform="rotate(0.05 540.30 603.32)">5</text>
<line x1="541.60" y1="533.64" x2="544.00" y2="533.64" stroke="#231f20" stroke-width="1.1"/>
<text x="540.30" y="536.99" font-size="9.6" text-anchor="end" transform="rotate(0.05 540.30 536.99)">10</text>
<line x1="541.60" y1="468.31" x2="544.00" y2="468.31" stroke="#231f20" stroke-width="1.1"/>
<text x="540.30" y="473.41" font-size="9.6" text-anchor="end" transform="rotate(0.05 540.30 473.41)">15</text>
<text x="526.80" y="566.00" font-size="11.65" text-anchor="middle" transform="rotate(-90 526.80 566.00)">RLU fold induction</text>
<line x1="556.80" y1="650.80" x2="556.80" y2="651.75" stroke="#231f20" stroke-width="1.2"/>
<line x1="554.45" y1="650.80" x2="559.15" y2="650.80" stroke="#231f20" stroke-width="1.2"/>
<rect x="551.65" y="650.85" width="10.30" height="13.65" fill="#231f20"/>
<line x1="554.90" y1="664.80" x2="554.90" y2="667.20" stroke="#231f20" stroke-width="1.1"/>
<text x="560.00" y="674.10" font-size="10.4" text-anchor="end" transform="rotate(-46 560.00 674.10)">0</text>
<line x1="572.74" y1="639.40" x2="572.74" y2="641.50" stroke="#231f20" stroke-width="1.2"/>
<line x1="570.39" y1="639.40" x2="575.09" y2="639.40" stroke="#231f20" stroke-width="1.2"/>
<rect x="567.59" y="640.60" width="10.30" height="23.90" fill="#231f20"/>
<line x1="571.16" y1="664.80" x2="571.16" y2="667.20" stroke="#231f20" stroke-width="1.1"/>
<text x="576.90" y="674.10" font-size="10.4" text-anchor="end" transform="rotate(-46 576.90 674.10)">0.00032</text>
<line x1="588.68" y1="619.60" x2="588.68" y2="622.75" stroke="#231f20" stroke-width="1.2"/>
<line x1="586.33" y1="619.60" x2="591.03" y2="619.60" stroke="#231f20" stroke-width="1.2"/>
<rect x="583.53" y="621.85" width="10.30" height="42.65" fill="#231f20"/>
<line x1="587.42" y1="664.80" x2="587.42" y2="667.20" stroke="#231f20" stroke-width="1.1"/>
<text x="588.98" y="620.77" font-size="11.2" text-anchor="middle" transform="rotate(0.05 588.98 620.77)" stroke-width="0.5" letter-spacing="0.6">**</text>
<text x="592.65" y="674.10" font-size="10.4" text-anchor="end" transform="rotate(-46 592.65 674.10)">0.0016</text>
<line x1="604.62" y1="575.25" x2="604.62" y2="586.50" stroke="#231f20" stroke-width="1.2"/>
<line x1="602.27" y1="575.25" x2="606.97" y2="575.25" stroke="#231f20" stroke-width="1.2"/>
<rect x="599.47" y="585.60" width="10.30" height="78.90" fill="#231f20"/>
<line x1="603.68" y1="664.80" x2="603.68" y2="667.20" stroke="#231f20" stroke-width="1.1"/>
<text x="604.92" y="576.27" font-size="11.2" text-anchor="middle" transform="rotate(0.05 604.92 576.27)" stroke-width="0.5" letter-spacing="0.6">***</text>
<text x="609.30" y="674.10" font-size="10.4" text-anchor="end" transform="rotate(-46 609.30 674.10)">0.008</text>
<line x1="620.56" y1="548.25" x2="620.56" y2="562.25" stroke="#231f20" stroke-width="1.2"/>
<line x1="618.21" y1="548.25" x2="622.91" y2="548.25" stroke="#231f20" stroke-width="1.2"/>
<rect x="615.41" y="561.35" width="10.30" height="103.15" fill="#231f20"/>
<line x1="619.94" y1="664.80" x2="619.94" y2="667.20" stroke="#231f20" stroke-width="1.1"/>
<text x="620.86" y="549.52" font-size="11.2" text-anchor="middle" transform="rotate(0.05 620.86 549.52)" stroke-width="0.5" letter-spacing="0.6">***</text>
<text x="625.60" y="674.10" font-size="10.4" text-anchor="end" transform="rotate(-46 625.60 674.10)">0.04</text>
<line x1="636.50" y1="542.00" x2="636.50" y2="553.75" stroke="#231f20" stroke-width="1.2"/>
<line x1="634.15" y1="542.00" x2="638.85" y2="542.00" stroke="#231f20" stroke-width="1.2"/>
<rect x="631.35" y="552.85" width="10.30" height="111.65" fill="#231f20"/>
<line x1="636.20" y1="664.80" x2="636.20" y2="667.20" stroke="#231f20" stroke-width="1.1"/>
<text x="636.80" y="542.77" font-size="11.2" text-anchor="middle" transform="rotate(0.05 636.80 542.77)" stroke-width="0.5" letter-spacing="0.6">***</text>
<text x="642.10" y="674.10" font-size="10.4" text-anchor="end" transform="rotate(-46 642.10 674.10)">0.2</text>
<line x1="652.44" y1="518.75" x2="652.44" y2="532.25" stroke="#231f20" stroke-width="1.2"/>
<line x1="650.09" y1="518.75" x2="654.79" y2="518.75" stroke="#231f20" stroke-width="1.2"/>
<rect x="647.29" y="531.35" width="10.30" height="133.15" fill="#231f20"/>
<line x1="652.46" y1="664.80" x2="652.46" y2="667.20" stroke="#231f20" stroke-width="1.1"/>
<text x="652.74" y="519.77" font-size="11.2" text-anchor="middle" transform="rotate(0.05 652.74 519.77)" stroke-width="0.5" letter-spacing="0.6">***</text>
<text x="657.20" y="674.10" font-size="10.4" text-anchor="end" transform="rotate(-46 657.20 674.10)">1</text>
<line x1="668.38" y1="528.25" x2="668.38" y2="535.50" stroke="#231f20" stroke-width="1.2"/>
<line x1="666.03" y1="528.25" x2="670.73" y2="528.25" stroke="#231f20" stroke-width="1.2"/>
<rect x="663.23" y="534.60" width="10.30" height="129.90" fill="#231f20"/>
<line x1="668.72" y1="664.80" x2="668.72" y2="667.20" stroke="#231f20" stroke-width="1.1"/>
<text x="668.68" y="529.52" font-size="11.2" text-anchor="middle" transform="rotate(0.05 668.68 529.52)" stroke-width="0.5" letter-spacing="0.6">***</text>
<text x="674.40" y="674.10" font-size="10.4" text-anchor="end" transform="rotate(-46 674.40 674.10)">5</text>
<text x="618.80" y="705.80" font-size="11.8" text-anchor="middle" transform="rotate(0.05 618.80 705.80)">concentration (<tspan font-family="'Liberation Serif', serif">μ</tspan>M)</text>
<text x="86.00" y="734.60" font-size="14" text-anchor="middle" transform="rotate(0.05 86.00 734.60)">Gliquidone</text>
<line x1="30.00" y1="734.90" x2="30.00" y2="929.25" stroke="#231f20" stroke-width="1.3"/>
<line x1="29.40" y1="928.50" x2="163.60" y2="928.50" stroke="#231f20" stroke-width="1.3"/>
<line x1="27.60" y1="928.00" x2="30.00" y2="928.00" stroke="#231f20" stroke-width="1.1"/>
<text x="25.10" y="929.75" font-size="9.6" text-anchor="end" transform="rotate(0.05 25.10 929.75)">0</text>
<line x1="27.60" y1="889.50" x2="30.00" y2="889.50" stroke="#231f20" stroke-width="1.1"/>
<text x="25.10" y="892.85" font-size="9.6" text-anchor="end" transform="rotate(0.05 25.10 892.85)">0.5</text>
<line x1="27.60" y1="851.00" x2="30.00" y2="851.00" stroke="#231f20" stroke-width="1.1"/>
<text x="25.10" y="854.35" font-size="9.6" text-anchor="end" transform="rotate(0.05 25.10 854.35)">1.0</text>
<line x1="27.60" y1="812.50" x2="30.00" y2="812.50" stroke="#231f20" stroke-width="1.1"/>
<text x="25.10" y="815.85" font-size="9.6" text-anchor="end" transform="rotate(0.05 25.10 815.85)">1.5</text>
<line x1="27.60" y1="774.00" x2="30.00" y2="774.00" stroke="#231f20" stroke-width="1.1"/>
<text x="25.10" y="777.35" font-size="9.6" text-anchor="end" transform="rotate(0.05 25.10 777.35)">2.0</text>
<line x1="27.60" y1="735.50" x2="30.00" y2="735.50" stroke="#231f20" stroke-width="1.1"/>
<text x="25.10" y="738.85" font-size="9.6" text-anchor="end" transform="rotate(0.05 25.10 738.85)">2.5</text>
<text x="9.00" y="829.50" font-size="11.65" text-anchor="middle" transform="rotate(-90 9.00 829.50)">RLU fold induction</text>
<line x1="40.50" y1="842.25" x2="40.50" y2="848.75" stroke="#231f20" stroke-width="1.2"/>
<line x1="38.15" y1="842.25" x2="42.85" y2="842.25" stroke="#231f20" stroke-width="1.2"/>
<rect x="35.90" y="847.85" width="9.20" height="80.35" fill="#231f20"/>
<line x1="39.47" y1="928.50" x2="39.47" y2="930.90" stroke="#231f20" stroke-width="1.1"/>
<text x="45.55" y="937.80" font-size="10.4" text-anchor="end" transform="rotate(-46 45.55 937.80)">0</text>
<line x1="54.56" y1="829.75" x2="54.56" y2="839.25" stroke="#231f20" stroke-width="1.2"/>
<line x1="52.21" y1="829.75" x2="56.91" y2="829.75" stroke="#231f20" stroke-width="1.2"/>
<rect x="49.96" y="838.35" width="9.20" height="89.85" fill="#231f20"/>
<line x1="53.71" y1="928.50" x2="53.71" y2="930.90" stroke="#231f20" stroke-width="1.1"/>
<text x="59.73" y="937.80" font-size="10.4" text-anchor="end" transform="rotate(-46 59.73 937.80)">0.04</text>
<line x1="68.62" y1="832.00" x2="68.62" y2="843.00" stroke="#231f20" stroke-width="1.2"/>
<line x1="66.27" y1="832.00" x2="70.97" y2="832.00" stroke="#231f20" stroke-width="1.2"/>
<rect x="64.02" y="842.10" width="9.20" height="86.10" fill="#231f20"/>
<line x1="67.95" y1="928.50" x2="67.95" y2="930.90" stroke="#231f20" stroke-width="1.1"/>
<text x="73.91" y="937.80" font-size="10.4" text-anchor="end" transform="rotate(-46 73.91 937.80)">0.08</text>
<line x1="82.68" y1="842.00" x2="82.68" y2="848.00" stroke="#231f20" stroke-width="1.2"/>
<line x1="80.33" y1="842.00" x2="85.03" y2="842.00" stroke="#231f20" stroke-width="1.2"/>
<rect x="78.08" y="847.10" width="9.20" height="81.10" fill="#231f20"/>
<line x1="82.19" y1="928.50" x2="82.19" y2="930.90" stroke="#231f20" stroke-width="1.1"/>
<text x="88.09" y="937.80" font-size="10.4" text-anchor="end" transform="rotate(-46 88.09 937.80)">0.16</text>
<line x1="96.74" y1="838.25" x2="96.74" y2="848.00" stroke="#231f20" stroke-width="1.2"/>
<line x1="94.39" y1="838.25" x2="99.09" y2="838.25" stroke="#231f20" stroke-width="1.2"/>
<rect x="92.14" y="847.10" width="9.20" height="81.10" fill="#231f20"/>
<line x1="96.43" y1="928.50" x2="96.43" y2="930.90" stroke="#231f20" stroke-width="1.1"/>
<text x="102.27" y="937.80" font-size="10.4" text-anchor="end" transform="rotate(-46 102.27 937.80)">0.32</text>
<line x1="110.80" y1="834.75" x2="110.80" y2="845.50" stroke="#231f20" stroke-width="1.2"/>
<line x1="108.45" y1="834.75" x2="113.15" y2="834.75" stroke="#231f20" stroke-width="1.2"/>
<rect x="106.20" y="844.60" width="9.20" height="83.60" fill="#231f20"/>
<line x1="110.67" y1="928.50" x2="110.67" y2="930.90" stroke="#231f20" stroke-width="1.1"/>
<text x="116.45" y="937.80" font-size="10.4" text-anchor="end" transform="rotate(-46 116.45 937.80)">0.625</text>
<line x1="124.86" y1="821.00" x2="124.86" y2="827.50" stroke="#231f20" stroke-width="1.2"/>
<line x1="122.51" y1="821.00" x2="127.21" y2="821.00" stroke="#231f20" stroke-width="1.2"/>
<rect x="120.26" y="826.60" width="9.20" height="101.60" fill="#231f20"/>
<line x1="124.91" y1="928.50" x2="124.91" y2="930.90" stroke="#231f20" stroke-width="1.1"/>
<text x="125.16" y="820.27" font-size="11.2" text-anchor="middle" transform="rotate(0.05 125.16 820.27)" stroke-width="0.5" letter-spacing="0.6">*</text>
<text x="130.63" y="937.80" font-size="10.4" text-anchor="end" transform="rotate(-46 130.63 937.80)">1.25</text>
<line x1="138.92" y1="796.50" x2="138.92" y2="801.75" stroke="#231f20" stroke-width="1.2"/>
<line x1="136.57" y1="796.50" x2="141.27" y2="796.50" stroke="#231f20" stroke-width="1.2"/>
<rect x="134.32" y="800.85" width="9.20" height="127.35" fill="#231f20"/>
<line x1="139.15" y1="928.50" x2="139.15" y2="930.90" stroke="#231f20" stroke-width="1.1"/>
<text x="139.22" y="797.77" font-size="11.2" text-anchor="middle" transform="rotate(0.05 139.22 797.77)" stroke-width="0.5" letter-spacing="0.6">***</text>
<text x="144.81" y="937.80" font-size="10.4" text-anchor="end" transform="rotate(-46 144.81 937.80)">2.5</text>
<line x1="152.98" y1="767.00" x2="152.98" y2="773.25" stroke="#231f20" stroke-width="1.2"/>
<line x1="150.63" y1="767.00" x2="155.33" y2="767.00" stroke="#231f20" stroke-width="1.2"/>
<rect x="148.38" y="772.35" width="9.20" height="155.85" fill="#231f20"/>
<line x1="153.39" y1="928.50" x2="153.39" y2="930.90" stroke="#231f20" stroke-width="1.1"/>
<text x="153.28" y="768.77" font-size="11.2" text-anchor="middle" transform="rotate(0.05 153.28 768.77)" stroke-width="0.5" letter-spacing="0.6">***</text>
<text x="158.99" y="937.80" font-size="10.4" text-anchor="end" transform="rotate(-46 158.99 937.80)">5.0</text>
<text x="92.00" y="968.20" font-size="11.8" text-anchor="middle" transform="rotate(0.05 92.00 968.20)">concentration (<tspan font-family="'Liberation Serif', serif">μ</tspan>M)</text>
<text x="263.50" y="737.60" font-size="14" text-anchor="middle" transform="rotate(0.05 263.50 737.60)">Nicardipine</text>
<line x1="204.00" y1="736.40" x2="204.00" y2="930.25" stroke="#231f20" stroke-width="1.3"/>
<line x1="203.40" y1="929.50" x2="337.60" y2="929.50" stroke="#231f20" stroke-width="1.3"/>
<line x1="201.60" y1="929.00" x2="204.00" y2="929.00" stroke="#231f20" stroke-width="1.1"/>
<text x="200.50" y="930.75" font-size="9.6" text-anchor="end" transform="rotate(0.05 200.50 930.75)">0</text>
<line x1="201.60" y1="890.60" x2="204.00" y2="890.60" stroke="#231f20" stroke-width="1.1"/>
<text x="200.50" y="893.95" font-size="9.6" text-anchor="end" transform="rotate(0.05 200.50 893.95)">0.5</text>
<line x1="201.60" y1="852.20" x2="204.00" y2="852.20" stroke="#231f20" stroke-width="1.1"/>
<text x="200.50" y="855.55" font-size="9.6" text-anchor="end" transform="rotate(0.05 200.50 855.55)">1.0</text>
<line x1="201.60" y1="813.80" x2="204.00" y2="813.80" stroke="#231f20" stroke-width="1.1"/>
<text x="200.50" y="817.15" font-size="9.6" text-anchor="end" transform="rotate(0.05 200.50 817.15)">1.5</text>
<line x1="201.60" y1="775.40" x2="204.00" y2="775.40" stroke="#231f20" stroke-width="1.1"/>
<text x="200.50" y="778.75" font-size="9.6" text-anchor="end" transform="rotate(0.05 200.50 778.75)">2.0</text>
<line x1="201.60" y1="737.00" x2="204.00" y2="737.00" stroke="#231f20" stroke-width="1.1"/>
<text x="200.50" y="740.35" font-size="9.6" text-anchor="end" transform="rotate(0.05 200.50 740.35)">2.5</text>
<text x="184.60" y="832.60" font-size="11.65" text-anchor="middle" transform="rotate(-90 184.60 832.60)">RLU fold induction</text>
<line x1="214.50" y1="843.25" x2="214.50" y2="850.50" stroke="#231f20" stroke-width="1.2"/>
<line x1="212.15" y1="843.25" x2="216.85" y2="843.25" stroke="#231f20" stroke-width="1.2"/>
<rect x="209.90" y="849.60" width="9.20" height="79.60" fill="#231f20"/>
<line x1="213.33" y1="929.50" x2="213.33" y2="931.90" stroke="#231f20" stroke-width="1.1"/>
<text x="219.10" y="938.80" font-size="10.4" text-anchor="end" transform="rotate(-46 219.10 938.80)">0</text>
<line x1="228.52" y1="845.25" x2="228.52" y2="849.75" stroke="#231f20" stroke-width="1.2"/>
<line x1="226.17" y1="845.25" x2="230.87" y2="845.25" stroke="#231f20" stroke-width="1.2"/>
<rect x="223.92" y="848.85" width="9.20" height="80.35" fill="#231f20"/>
<line x1="227.60" y1="929.50" x2="227.60" y2="931.90" stroke="#231f20" stroke-width="1.1"/>
<text x="233.25" y="938.80" font-size="10.4" text-anchor="end" transform="rotate(-46 233.25 938.80)">0.04</text>
<line x1="242.54" y1="832.25" x2="242.54" y2="839.75" stroke="#231f20" stroke-width="1.2"/>
<line x1="240.19" y1="832.25" x2="244.89" y2="832.25" stroke="#231f20" stroke-width="1.2"/>
<rect x="237.94" y="838.85" width="9.20" height="90.35" fill="#231f20"/>
<line x1="241.87" y1="929.50" x2="241.87" y2="931.90" stroke="#231f20" stroke-width="1.1"/>
<text x="247.40" y="938.80" font-size="10.4" text-anchor="end" transform="rotate(-46 247.40 938.80)">0.08</text>
<line x1="256.56" y1="831.25" x2="256.56" y2="843.75" stroke="#231f20" stroke-width="1.2"/>
<line x1="254.21" y1="831.25" x2="258.91" y2="831.25" stroke="#231f20" stroke-width="1.2"/>
<rect x="251.96" y="842.85" width="9.20" height="86.35" fill="#231f20"/>
<line x1="256.14" y1="929.50" x2="256.14" y2="931.90" stroke="#231f20" stroke-width="1.1"/>
<text x="261.55" y="938.80" font-size="10.4" text-anchor="end" transform="rotate(-46 261.55 938.80)">0.16</text>
<line x1="270.58" y1="829.50" x2="270.58" y2="833.75" stroke="#231f20" stroke-width="1.2"/>
<line x1="268.23" y1="829.50" x2="272.93" y2="829.50" stroke="#231f20" stroke-width="1.2"/>
<rect x="265.98" y="832.85" width="9.20" height="96.35" fill="#231f20"/>
<line x1="270.41" y1="929.50" x2="270.41" y2="931.90" stroke="#231f20" stroke-width="1.1"/>
<text x="275.70" y="938.80" font-size="10.4" text-anchor="end" transform="rotate(-46 275.70 938.80)">0.32</text>
<line x1="284.60" y1="815.75" x2="284.60" y2="820.50" stroke="#231f20" stroke-width="1.2"/>
<line x1="282.25" y1="815.75" x2="286.95" y2="815.75" stroke="#231f20" stroke-width="1.2"/>
<rect x="280.00" y="819.60" width="9.20" height="109.60" fill="#231f20"/>
<line x1="284.68" y1="929.50" x2="284.68" y2="931.90" stroke="#231f20" stroke-width="1.1"/>
<text x="284.90" y="816.27" font-size="11.2" text-anchor="middle" transform="rotate(0.05 284.90 816.27)" stroke-width="0.5" letter-spacing="0.6">***</text>
<text x="289.85" y="938.80" font-size="10.4" text-anchor="end" transform="rotate(-46 289.85 938.80)">0.625</text>
<line x1="298.62" y1="792.25" x2="298.62" y2="801.25" stroke="#231f20" stroke-width="1.2"/>
<line x1="296.27" y1="792.25" x2="300.97" y2="792.25" stroke="#231f20" stroke-width="1.2"/>
<rect x="294.02" y="800.35" width="9.20" height="128.85" fill="#231f20"/>
<line x1="298.95" y1="929.50" x2="298.95" y2="931.90" stroke="#231f20" stroke-width="1.1"/>
<text x="298.92" y="793.52" font-size="11.2" text-anchor="middle" transform="rotate(0.05 298.92 793.52)" stroke-width="0.5" letter-spacing="0.6">***</text>
<text x="304.00" y="938.80" font-size="10.4" text-anchor="end" transform="rotate(-46 304.00 938.80)">1.25</text>
<line x1="312.64" y1="764.50" x2="312.64" y2="772.00" stroke="#231f20" stroke-width="1.2"/>
<line x1="310.29" y1="764.50" x2="314.99" y2="764.50" stroke="#231f20" stroke-width="1.2"/>
<rect x="308.04" y="771.10" width="9.20" height="158.10" fill="#231f20"/>
<line x1="313.22" y1="929.50" x2="313.22" y2="931.90" stroke="#231f20" stroke-width="1.1"/>
<text x="312.94" y="766.02" font-size="11.2" text-anchor="middle" transform="rotate(0.05 312.94 766.02)" stroke-width="0.5" letter-spacing="0.6">***</text>
<text x="318.15" y="938.80" font-size="10.4" text-anchor="end" transform="rotate(-46 318.15 938.80)">2.5</text>
<line x1="326.66" y1="765.75" x2="326.66" y2="777.00" stroke="#231f20" stroke-width="1.2"/>
<line x1="324.31" y1="765.75" x2="329.01" y2="765.75" stroke="#231f20" stroke-width="1.2"/>
<rect x="322.06" y="776.10" width="9.20" height="153.10" fill="#231f20"/>
<line x1="327.49" y1="929.50" x2="327.49" y2="931.90" stroke="#231f20" stroke-width="1.1"/>
<text x="326.96" y="767.02" font-size="11.2" text-anchor="middle" transform="rotate(0.05 326.96 767.02)" stroke-width="0.5" letter-spacing="0.6">***</text>
<text x="332.30" y="938.80" font-size="10.4" text-anchor="end" transform="rotate(-46 332.30 938.80)">5.0</text>
<text x="270.80" y="968.20" font-size="11.8" text-anchor="middle" transform="rotate(0.05 270.80 968.20)">concentration (<tspan font-family="'Liberation Serif', serif">μ</tspan>M)</text>
<text x="443.40" y="738.00" font-size="14" text-anchor="middle" transform="rotate(0.05 443.40 738.00)">Triclosan</text>
<line x1="378.20" y1="736.40" x2="378.20" y2="930.25" stroke="#231f20" stroke-width="1.3"/>
<line x1="377.60" y1="929.50" x2="512.20" y2="929.50" stroke="#231f20" stroke-width="1.3"/>
<line x1="375.80" y1="929.00" x2="378.20" y2="929.00" stroke="#231f20" stroke-width="1.1"/>
<text x="374.80" y="930.35" font-size="9.6" text-anchor="end" transform="rotate(0.05 374.80 930.35)">0</text>
<line x1="375.80" y1="865.00" x2="378.20" y2="865.00" stroke="#231f20" stroke-width="1.1"/>
<text x="374.80" y="869.10" font-size="9.6" text-anchor="end" transform="rotate(0.05 374.80 869.10)">0.5</text>
<line x1="375.80" y1="801.00" x2="378.20" y2="801.00" stroke="#231f20" stroke-width="1.1"/>
<text x="374.80" y="805.10" font-size="9.6" text-anchor="end" transform="rotate(0.05 374.80 805.10)">1.0</text>
<line x1="375.80" y1="737.00" x2="378.20" y2="737.00" stroke="#231f20" stroke-width="1.1"/>
<text x="374.80" y="741.35" font-size="9.6" text-anchor="end" transform="rotate(0.05 374.80 741.35)">1.5</text>
<text x="361.00" y="832.60" font-size="11.65" text-anchor="middle" transform="rotate(-90 361.00 832.60)">RLU fold induction</text>
<line x1="388.90" y1="786.50" x2="388.90" y2="796.75" stroke="#231f20" stroke-width="1.2"/>
<line x1="386.55" y1="786.50" x2="391.25" y2="786.50" stroke="#231f20" stroke-width="1.2"/>
<rect x="384.30" y="795.85" width="9.20" height="133.35" fill="#231f20"/>
<line x1="387.98" y1="929.50" x2="387.98" y2="931.90" stroke="#231f20" stroke-width="1.1"/>
<text x="393.90" y="938.80" font-size="10.4" text-anchor="end" transform="rotate(-46 393.90 938.80)">0</text>
<line x1="402.99" y1="782.50" x2="402.99" y2="787.00" stroke="#231f20" stroke-width="1.2"/>
<line x1="400.64" y1="782.50" x2="405.34" y2="782.50" stroke="#231f20" stroke-width="1.2"/>
<rect x="398.39" y="786.10" width="9.20" height="143.10" fill="#231f20"/>
<line x1="402.22" y1="929.50" x2="402.22" y2="931.90" stroke="#231f20" stroke-width="1.1"/>
<text x="408.09" y="938.80" font-size="10.4" text-anchor="end" transform="rotate(-46 408.09 938.80)">0.04</text>
<line x1="417.08" y1="795.75" x2="417.08" y2="802.50" stroke="#231f20" stroke-width="1.2"/>
<line x1="414.73" y1="795.75" x2="419.43" y2="795.75" stroke="#231f20" stroke-width="1.2"/>
<rect x="412.48" y="801.60" width="9.20" height="127.60" fill="#231f20"/>
<line x1="416.46" y1="929.50" x2="416.46" y2="931.90" stroke="#231f20" stroke-width="1.1"/>
<text x="422.28" y="938.80" font-size="10.4" text-anchor="end" transform="rotate(-46 422.28 938.80)">0.08</text>
<line x1="431.17" y1="808.50" x2="431.17" y2="811.75" stroke="#231f20" stroke-width="1.2"/>
<line x1="428.82" y1="808.50" x2="433.52" y2="808.50" stroke="#231f20" stroke-width="1.2"/>
<rect x="426.57" y="810.85" width="9.20" height="118.35" fill="#231f20"/>
<line x1="430.70" y1="929.50" x2="430.70" y2="931.90" stroke="#231f20" stroke-width="1.1"/>
<text x="436.47" y="938.80" font-size="10.4" text-anchor="end" transform="rotate(-46 436.47 938.80)">0.16</text>
<line x1="445.26" y1="809.50" x2="445.26" y2="818.75" stroke="#231f20" stroke-width="1.2"/>
<line x1="442.91" y1="809.50" x2="447.61" y2="809.50" stroke="#231f20" stroke-width="1.2"/>
<rect x="440.66" y="817.85" width="9.20" height="111.35" fill="#231f20"/>
<line x1="444.94" y1="929.50" x2="444.94" y2="931.90" stroke="#231f20" stroke-width="1.1"/>
<text x="445.56" y="810.27" font-size="11.2" text-anchor="middle" transform="rotate(0.05 445.56 810.27)" stroke-width="0.5" letter-spacing="0.6">*</text>
<text x="450.66" y="938.80" font-size="10.4" text-anchor="end" transform="rotate(-46 450.66 938.80)">0.32</text>
<line x1="459.35" y1="809.50" x2="459.35" y2="817.50" stroke="#231f20" stroke-width="1.2"/>
<line x1="457.00" y1="809.50" x2="461.70" y2="809.50" stroke="#231f20" stroke-width="1.2"/>
<rect x="454.75" y="816.60" width="9.20" height="112.60" fill="#231f20"/>
<line x1="459.18" y1="929.50" x2="459.18" y2="931.90" stroke="#231f20" stroke-width="1.1"/>
<text x="459.65" y="810.27" font-size="11.2" text-anchor="middle" transform="rotate(0.05 459.65 810.27)" stroke-width="0.5" letter-spacing="0.6">*</text>
<text x="464.85" y="938.80" font-size="10.4" text-anchor="end" transform="rotate(-46 464.85 938.80)">0.625</text>
<line x1="473.44" y1="807.00" x2="473.44" y2="812.00" stroke="#231f20" stroke-width="1.2"/>
<line x1="471.09" y1="807.00" x2="475.79" y2="807.00" stroke="#231f20" stroke-width="1.2"/>
<rect x="468.84" y="811.10" width="9.20" height="118.10" fill="#231f20"/>
<line x1="473.42" y1="929.50" x2="473.42" y2="931.90" stroke="#231f20" stroke-width="1.1"/>
<text x="479.04" y="938.80" font-size="10.4" text-anchor="end" transform="rotate(-46 479.04 938.80)">1.25</text>
<line x1="487.53" y1="782.25" x2="487.53" y2="791.50" stroke="#231f20" stroke-width="1.2"/>
<line x1="485.18" y1="782.25" x2="489.88" y2="782.25" stroke="#231f20" stroke-width="1.2"/>
<rect x="482.93" y="790.60" width="9.20" height="138.60" fill="#231f20"/>
<line x1="487.66" y1="929.50" x2="487.66" y2="931.90" stroke="#231f20" stroke-width="1.1"/>
<text x="493.23" y="938.80" font-size="10.4" text-anchor="end" transform="rotate(-46 493.23 938.80)">2.5</text>
<line x1="501.62" y1="772.75" x2="501.62" y2="789.75" stroke="#231f20" stroke-width="1.2"/>
<line x1="499.27" y1="772.75" x2="503.97" y2="772.75" stroke="#231f20" stroke-width="1.2"/>
<rect x="497.02" y="788.85" width="9.20" height="140.35" fill="#231f20"/>
<line x1="501.90" y1="929.50" x2="501.90" y2="931.90" stroke="#231f20" stroke-width="1.1"/>
<text x="507.42" y="938.80" font-size="10.4" text-anchor="end" transform="rotate(-46 507.42 938.80)">5.0</text>
<text x="444.50" y="968.20" font-size="11.8" text-anchor="middle" transform="rotate(0.05 444.50 968.20)">concentration (<tspan font-family="'Liberation Serif', serif">μ</tspan>M)</text>
<text x="618.10" y="738.00" font-size="14" text-anchor="middle" transform="rotate(0.05 618.10 738.00)">CDCA</text>
<line x1="546.50" y1="728.20" x2="546.50" y2="929.55" stroke="#231f20" stroke-width="1.3"/>
<line x1="545.90" y1="928.80" x2="685.00" y2="928.80" stroke="#231f20" stroke-width="1.3"/>
<line x1="544.10" y1="928.30" x2="546.50" y2="928.30" stroke="#231f20" stroke-width="1.1"/>
<text x="542.60" y="929.05" font-size="9.6" text-anchor="end" transform="rotate(0.05 542.60 929.05)">0</text>
<line x1="544.10" y1="878.42" x2="546.50" y2="878.42" stroke="#231f20" stroke-width="1.1"/>
<text x="542.60" y="881.77" font-size="9.6" text-anchor="end" transform="rotate(0.05 542.60 881.77)">0.5</text>
<line x1="544.10" y1="828.54" x2="546.50" y2="828.54" stroke="#231f20" stroke-width="1.1"/>
<text x="542.60" y="834.49" font-size="9.6" text-anchor="end" transform="rotate(0.05 542.60 834.49)">1.0</text>
<line x1="544.10" y1="778.66" x2="546.50" y2="778.66" stroke="#231f20" stroke-width="1.1"/>
<text x="542.60" y="785.41" font-size="9.6" text-anchor="end" transform="rotate(0.05 542.60 785.41)">1.5</text>
<line x1="544.10" y1="728.78" x2="546.50" y2="728.78" stroke="#231f20" stroke-width="1.1"/>
<text x="542.60" y="737.63" font-size="9.6" text-anchor="end" transform="rotate(0.05 542.60 737.63)">2.0</text>
<text x="526.80" y="832.20" font-size="11.65" text-anchor="middle" transform="rotate(-90 526.80 832.20)">RLU fold induction</text>
<line x1="558.20" y1="900.25" x2="558.20" y2="903.00" stroke="#231f20" stroke-width="1.2"/>
<line x1="555.85" y1="900.25" x2="560.55" y2="900.25" stroke="#231f20" stroke-width="1.2"/>
<rect x="552.85" y="902.10" width="10.70" height="26.40" fill="#231f20"/>
<line x1="557.30" y1="928.80" x2="557.30" y2="931.20" stroke="#231f20" stroke-width="1.1"/>
<text x="561.90" y="938.10" font-size="10.4" text-anchor="end" transform="rotate(-46 561.90 938.10)">0</text>
<line x1="574.60" y1="898.25" x2="574.60" y2="901.25" stroke="#231f20" stroke-width="1.2"/>
<line x1="572.25" y1="898.25" x2="576.95" y2="898.25" stroke="#231f20" stroke-width="1.2"/>
<rect x="569.25" y="900.35" width="10.70" height="28.15" fill="#231f20"/>
<line x1="573.86" y1="928.80" x2="573.86" y2="931.20" stroke="#231f20" stroke-width="1.1"/>
<text x="579.40" y="937.70" font-size="10.4" text-anchor="end" transform="rotate(-46 579.40 937.70)">0.0032</text>
<line x1="591.00" y1="890.75" x2="591.00" y2="896.75" stroke="#231f20" stroke-width="1.2"/>
<line x1="588.65" y1="890.75" x2="593.35" y2="890.75" stroke="#231f20" stroke-width="1.2"/>
<rect x="585.65" y="895.85" width="10.70" height="32.65" fill="#231f20"/>
<line x1="590.42" y1="928.80" x2="590.42" y2="931.20" stroke="#231f20" stroke-width="1.1"/>
<text x="594.90" y="937.70" font-size="10.4" text-anchor="end" transform="rotate(-46 594.90 937.70)">0.016</text>
<line x1="607.40" y1="891.50" x2="607.40" y2="898.25" stroke="#231f20" stroke-width="1.2"/>
<line x1="605.05" y1="891.50" x2="609.75" y2="891.50" stroke="#231f20" stroke-width="1.2"/>
<rect x="602.05" y="897.35" width="10.70" height="31.15" fill="#231f20"/>
<line x1="606.98" y1="928.80" x2="606.98" y2="931.20" stroke="#231f20" stroke-width="1.1"/>
<text x="612.70" y="938.10" font-size="10.4" text-anchor="end" transform="rotate(-46 612.70 938.10)">0.080</text>
<line x1="623.80" y1="885.00" x2="623.80" y2="888.25" stroke="#231f20" stroke-width="1.2"/>
<line x1="621.45" y1="885.00" x2="626.15" y2="885.00" stroke="#231f20" stroke-width="1.2"/>
<rect x="618.45" y="887.35" width="10.70" height="41.15" fill="#231f20"/>
<line x1="623.54" y1="928.80" x2="623.54" y2="931.20" stroke="#231f20" stroke-width="1.1"/>
<text x="629.00" y="938.10" font-size="10.4" text-anchor="end" transform="rotate(-46 629.00 938.10)">0.4</text>
<line x1="640.20" y1="862.50" x2="640.20" y2="865.50" stroke="#231f20" stroke-width="1.2"/>
<line x1="637.85" y1="862.50" x2="642.55" y2="862.50" stroke="#231f20" stroke-width="1.2"/>
<rect x="634.85" y="864.60" width="10.70" height="63.90" fill="#231f20"/>
<line x1="640.10" y1="928.80" x2="640.10" y2="931.20" stroke="#231f20" stroke-width="1.1"/>
<text x="640.50" y="864.02" font-size="11.2" text-anchor="middle" transform="rotate(0.05 640.50 864.02)" stroke-width="0.5" letter-spacing="0.6">***</text>
<text x="646.50" y="938.10" font-size="10.4" text-anchor="end" transform="rotate(-46 646.50 938.10)">2.0</text>
<line x1="656.60" y1="830.75" x2="656.60" y2="833.50" stroke="#231f20" stroke-width="1.2"/>
<line x1="654.25" y1="830.75" x2="658.95" y2="830.75" stroke="#231f20" stroke-width="1.2"/>
<rect x="651.25" y="832.60" width="10.70" height="95.90" fill="#231f20"/>
<line x1="656.66" y1="928.80" x2="656.66" y2="931.20" stroke="#231f20" stroke-width="1.1"/>
<text x="656.90" y="831.77" font-size="11.2" text-anchor="middle" transform="rotate(0.05 656.90 831.77)" stroke-width="0.5" letter-spacing="0.6">***</text>
<text x="662.50" y="937.10" font-size="10.4" text-anchor="end" transform="rotate(-46 662.50 937.10)">10</text>
<line x1="673.00" y1="761.25" x2="673.00" y2="779.25" stroke="#231f20" stroke-width="1.2"/>
<line x1="670.65" y1="761.25" x2="675.35" y2="761.25" stroke="#231f20" stroke-width="1.2"/>
<rect x="667.65" y="778.35" width="10.70" height="150.15" fill="#231f20"/>
<line x1="673.22" y1="928.80" x2="673.22" y2="931.20" stroke="#231f20" stroke-width="1.1"/>
<text x="673.30" y="762.52" font-size="11.2" text-anchor="middle" transform="rotate(0.05 673.30 762.52)" stroke-width="0.5" letter-spacing="0.6">***</text>
<text x="679.90" y="936.80" font-size="10.4" text-anchor="end" transform="rotate(-46 679.90 936.80)">50</text>
<text x="618.80" y="968.20" font-size="11.8" text-anchor="middle" transform="rotate(0.05 618.80 968.20)">concentration (<tspan font-family="'Liberation Serif', serif">μ</tspan>M)</text>
</svg>
</body>
</html>
